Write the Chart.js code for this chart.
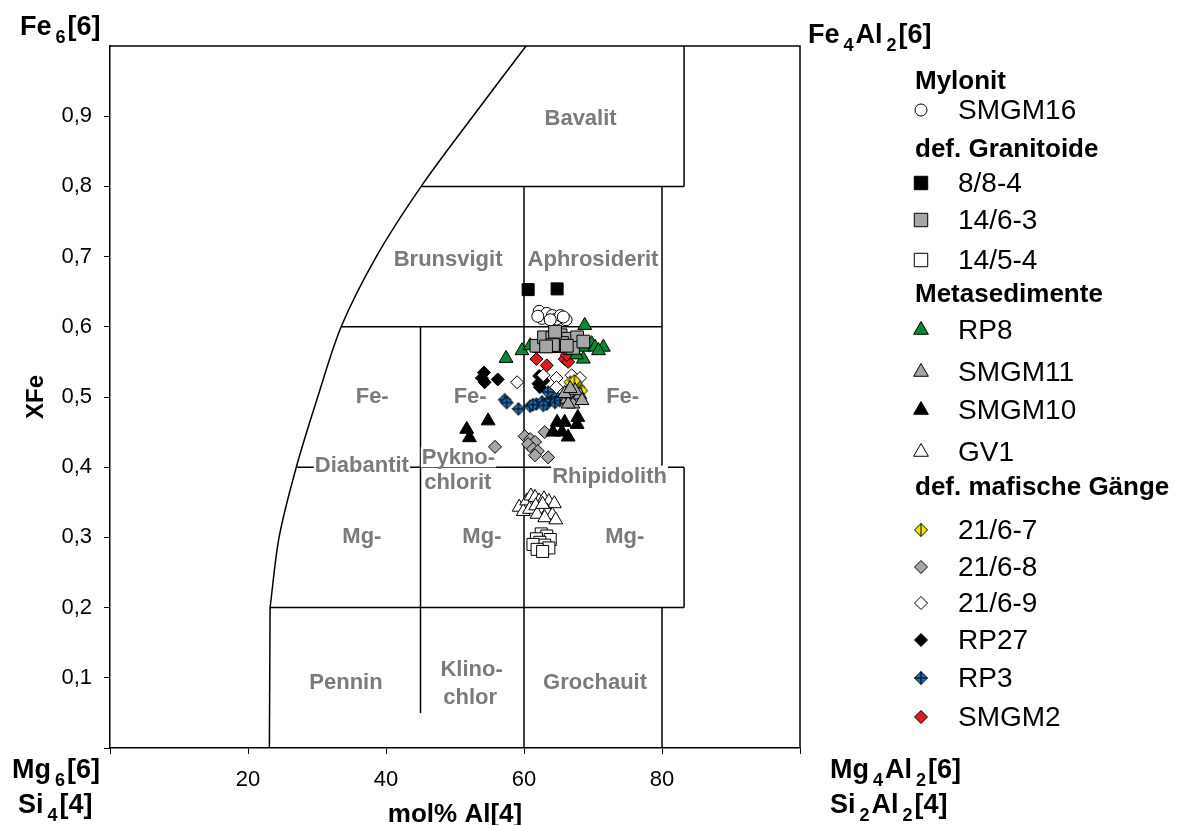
<!DOCTYPE html>
<html>
<head>
<meta charset="utf-8">
<title>Chlorit-Klassifikation</title>
<script src="https://cdn.jsdelivr.net/npm/chart.js@4/dist/chart.umd.min.js"></script>
<style>
    html, body { margin: 0; padding: 0; background: #fff; overflow: hidden; }
    #wrap { position: relative; width: 1184px; height: 850px; }
</style>
</head>
<body>
<div id="wrap"><canvas id="chloritChart"></canvas></div>
<script>
const FONT = "'Liberation Sans', Arial, Helvetica, sans-serif";

// Achsenbeschriftung
const xTickLabels = ['', '20', '40', '60', '80', ''];
const yTickLabels = ['', '0,1', '0,2', '0,3', '0,4', '0,5', '0,6', '0,7', '0,8', '0,9', null];

// Messwerte [mol% Al[4], XFe]
const smgm16 = [[62.2, 0.622], [62.6, 0.612], [63.3, 0.619], [64.1, 0.616], [64.7, 0.611], [65.3, 0.616], [66.1, 0.610], [65.7, 0.614], [63.8, 0.610], [62.0, 0.615]];
const gr8_8_4 = [[60.6, 0.653], [64.8, 0.654]];
const gr14_6_3 = [[61.8, 0.573], [62.9, 0.585], [64.1, 0.584], [65.3, 0.588], [66.4, 0.583], [67.7, 0.585], [67.1, 0.570], [65.5, 0.577], [64.2, 0.574], [63.2, 0.572], [68.6, 0.579], [64.5, 0.593], [66.2, 0.573]];
const gr14_5_4 = [[62.5, 0.305], [63.3, 0.302], [61.8, 0.298], [63.8, 0.297], [62.3, 0.293], [63.0, 0.289], [61.3, 0.290], [63.6, 0.285], [61.9, 0.283], [62.7, 0.280]];
const rp8 = [[57.4, 0.555], [59.7, 0.566], [68.8, 0.602], [60.9, 0.573], [62.3, 0.569], [63.8, 0.569], [65.0, 0.569], [66.7, 0.566], [68.6, 0.571], [69.8, 0.576], [70.3, 0.571], [71.5, 0.571], [70.8, 0.566], [68.6, 0.554], [67.6, 0.560]];
const smgm11 = [[66.2, 0.497], [66.9, 0.503], [67.6, 0.497], [67.1, 0.490], [66.4, 0.490], [68.1, 0.503], [67.4, 0.509], [65.9, 0.505], [68.4, 0.495], [66.7, 0.512]];
const smgm10 = [[51.7, 0.454], [52.1, 0.442], [54.8, 0.466], [64.8, 0.464], [65.9, 0.464], [67.8, 0.471], [67.7, 0.461], [64.2, 0.450], [65.5, 0.450], [66.4, 0.443]];
const gv1 = [[59.3, 0.343], [59.9, 0.337], [60.4, 0.352], [61.0, 0.359], [61.6, 0.357], [62.2, 0.352], [62.9, 0.355], [63.6, 0.351], [64.4, 0.348], [60.8, 0.340], [61.7, 0.345], [62.5, 0.340], [63.4, 0.337], [64.1, 0.332], [61.9, 0.333], [63.0, 0.328], [64.6, 0.325], [62.7, 0.347]];
const m21_6_7 = [[66.7, 0.521], [66.9, 0.514], [67.9, 0.514], [68.3, 0.509], [67.3, 0.523]];
const m21_6_8 = [[60.1, 0.444], [60.9, 0.440], [61.6, 0.436], [60.6, 0.433], [61.3, 0.426], [62.0, 0.423], [61.6, 0.417], [63.5, 0.414], [55.8, 0.429], [63.0, 0.450]];
const m21_6_9 = [[59.0, 0.521], [62.8, 0.531], [64.7, 0.527], [66.9, 0.531], [68.1, 0.527], [64.7, 0.514], [67.5, 0.520]];
const rp27 = [[54.2, 0.535], [53.9, 0.527], [54.3, 0.521], [56.2, 0.525], [62.2, 0.530], [62.1, 0.519], [62.3, 0.514], [62.8, 0.523]];
const rp3 = [[57.2, 0.496], [57.5, 0.492], [59.2, 0.483], [60.9, 0.487], [61.8, 0.490], [62.6, 0.493], [63.3, 0.490], [63.8, 0.497], [64.7, 0.500], [63.5, 0.507], [64.5, 0.492], [65.9, 0.500], [65.2, 0.495], [61.3, 0.489], [62.8, 0.488]];
const smgm2 = [[61.8, 0.554], [63.3, 0.545], [65.9, 0.554], [66.4, 0.550], [66.2, 0.560]];

// Feldgrenzen nach Hey
const borderCurve = [[23.2, 0.2], [24.5, 0.3], [27.0, 0.4], [30.1, 0.5], [33.5, 0.6], [38.6, 0.7], [45.1, 0.8], [52.6, 0.9], [60.3, 1.0]];
const fieldLines = [
    [[23.1, 0], [23.2, 0.2]],
    [[23.2, 0.2], [83.2, 0.2]],
    [[27.0, 0.4], [83.2, 0.4]],
    [[33.5, 0.6], [80, 0.6]],
    [[45.1, 0.8], [83.2, 0.8]],
    [[83.2, 0.8], [83.2, 1.0]],
    [[83.2, 0.2], [83.2, 0.4]],
    [[80, 0], [80, 0.2]],
    [[80, 0.4], [80, 0.8]],
    [[60, 0], [60, 0.8]],
    [[45, 0.05], [45, 0.6]]
];

// Feldnamen [Text, x, y]
const fieldNames = [
    ['Bavalit', 68.2, 0.897],
    ['Brunsvigit', 49.0, 0.696],
    ['Aphrosiderit', 70.0, 0.696],
    ['Fe-', 38.0, 0.502],
    ['Fe-', 52.2, 0.502],
    ['Fe-', 74.3, 0.502],
    ['Diabantit', 36.5, 0.403],
    ['Pykno-', 50.5, 0.414],
    ['chlorit', 50.4, 0.379],
    ['Rhipidolith', 72.4, 0.388],
    ['Mg-', 36.5, 0.302],
    ['Mg-', 53.9, 0.302],
    ['Mg-', 74.6, 0.302],
    ['Pennin', 34.2, 0.094],
    ['Klino-', 52.4, 0.112],
    ['chlor', 52.2, 0.073],
    ['Grochauit', 70.3, 0.094]
];

const legendGroups = ['Mylonit', 'def. Granitoide', 'Metasedimente', 'def. mafische Gänge'];

// Sondermarker (Raute mit Kreuz / Strich)
function makeDiamond(fill, r, cross) {
    const s = Math.ceil(2 * r + 3);
    const c = document.createElement('canvas');
    c.width = s;
    c.height = s;
    const g = c.getContext('2d');
    const m = s / 2;
    g.beginPath();
    g.moveTo(m, m - r);
    g.lineTo(m + r, m);
    g.lineTo(m, m + r);
    g.lineTo(m - r, m);
    g.closePath();
    g.fillStyle = fill;
    g.fill();
    g.lineWidth = 1;
    g.strokeStyle = '#000';
    g.stroke();
    g.beginPath();
    g.moveTo(m, m - r);
    g.lineTo(m, m + r);
    if (cross) {
        g.moveTo(m - r, m);
        g.lineTo(m + r, m);
    }
    g.stroke();
    return c;
}

const series = [
    { label: 'SMGM16', group: 0, data: smgm16, style: 'circle', fill: '#ffffff', r: 6, lr: 6 },
    { label: '8/8-4', group: 1, data: gr8_8_4, style: 'rect', fill: '#000000', r: 8.5, lr: 9.5 },
    { label: '14/6-3', group: 1, data: gr14_6_3, style: 'rect', fill: '#a6a6a6', r: 9, lr: 9.5 },
    { label: '14/5-4', group: 1, data: gr14_5_4, style: 'rect', fill: '#ffffff', r: 8.5, lr: 9.5 },
    { label: 'RP8', group: 2, data: rp8, style: 'triangle', fill: '#0b8a32', r: 8, lr: 8.5 },
    { label: 'SMGM11', group: 2, data: smgm11, style: 'triangle', fill: '#a6a6a6', r: 8, lr: 8.5 },
    { label: 'SMGM10', group: 2, data: smgm10, style: 'triangle', fill: '#000000', r: 8, lr: 8.5 },
    { label: 'GV1', group: 2, data: gv1, style: 'triangle', fill: '#ffffff', r: 8, lr: 8.5 },
    { label: '21/6-7', group: 3, data: m21_6_7, style: makeDiamond('#f2e40c', 6.3, false), legendStyle: makeDiamond('#f2e40c', 6.5, false), fill: '#f2e40c', r: 6.3, lr: 6.5 },
    { label: '21/6-8', group: 3, data: m21_6_8, style: 'rectRot', fill: '#a6a6a6', r: 6.5, lr: 6.5 },
    { label: '21/6-9', group: 3, data: m21_6_9, style: 'rectRot', fill: '#ffffff', r: 6.5, lr: 6.5 },
    { label: 'RP27', group: 3, data: rp27, style: 'rectRot', fill: '#000000', r: 6.5, lr: 6.5 },
    { label: 'RP3', group: 3, data: rp3, style: makeDiamond('#1f6db4', 6.3, true), legendStyle: makeDiamond('#1f6db4', 6.5, true), fill: '#1f6db4', r: 6.3, lr: 6.5 },
    { label: 'SMGM2', group: 3, data: smgm2, style: 'rectRot', fill: '#e01a22', r: 6.5, lr: 6.5 }
];

const toXY = pts => pts.map(([x, y]) => ({ x, y }));

const lineDatasets = [borderCurve, ...fieldLines].map((pts, i) => ({
    data: toXY(pts),
    showLine: true,
    tension: i === 0 ? 0.3 : 0,
    borderColor: '#000',
    borderWidth: 1.5,
    pointRadius: 0,
    order: 2
}));

const pointDatasets = series.map(s => ({
    label: s.label,
    data: toXY(s.data),
    pointStyle: s.style,
    pointRadius: s.r,
    pointBackgroundColor: s.fill,
    pointBorderColor: '#000',
    pointBorderWidth: 1,
    showLine: false,
    order: 1
}));

// Rahmen oben/rechts
const framePlugin = {
    id: 'frame',
    beforeDatasetsDraw(chart) {
        const { ctx, chartArea: a } = chart;
        ctx.save();
        ctx.strokeStyle = '#000';
        ctx.lineWidth = 1.5;
        ctx.beginPath();
        ctx.moveTo(a.left, a.top);
        ctx.lineTo(a.right, a.top);
        ctx.lineTo(a.right, a.bottom);
        ctx.stroke();
        ctx.restore();
    }
};

// Feldnamen zwischen Grenzlinien und Messpunkten
const fieldNamePlugin = {
    id: 'fieldNames',
    afterDatasetDraw(chart, args) {
        if (args.index !== 0) return;
        const { ctx, scales } = chart;
        ctx.save();
        ctx.font = 'bold 22px ' + FONT;
        ctx.textAlign = 'center';
        ctx.textBaseline = 'middle';
        fieldNames.forEach(([text, x, y]) => {
            const px = scales.x.getPixelForValue(x);
            const py = scales.y.getPixelForValue(y);
            const w = ctx.measureText(text).width;
            ctx.fillStyle = '#fff';
            ctx.fillRect(px - w / 2 - 1, py - 10, w + 2, 20);
            ctx.fillStyle = '#7b7b7b';
            ctx.fillText(text, px, py + 1);
        });
        ctx.restore();
    }
};

function drawFormula(ctx, parts, x, y, size) {
    let cx = x;
    parts.forEach(([t, sub]) => {
        const fs = sub ? Math.round(size * 0.66) : size;
        ctx.font = 'bold ' + fs + 'px ' + FONT;
        if (sub) cx += 4;
        ctx.fillText(t, cx, sub ? y + size * 0.28 : y);
        cx += ctx.measureText(t).width + (sub ? 2 : 0);
    });
}

// Eckbeschriftung und Legende
const legendRowY = [82, 110, 150, 183, 220, 260, 295, 330, 372, 410, 452, 488, 530, 567, 603, 640, 678, 717];

const cornerPlugin = {
    id: 'corners',
    afterDraw(chart) {
        const ctx = chart.ctx;
        ctx.save();
        ctx.fillStyle = '#000';
        ctx.textAlign = 'left';
        ctx.textBaseline = 'alphabetic';
        drawFormula(ctx, [['Fe', false], ['6', true], ['[6]', false]], 20, 35, 27);
        drawFormula(ctx, [['Fe', false], ['4', true], ['Al', false], ['2', true], ['[6]', false]], 808, 43, 27);
        drawFormula(ctx, [['Mg', false], ['6', true], ['[6]', false]], 12, 778, 27);
        drawFormula(ctx, [['Si', false], ['4', true], ['[4]', false]], 18, 813, 27);
        drawFormula(ctx, [['Mg', false], ['4', true], ['Al', false], ['2', true], ['[6]', false]], 830, 778, 27);
        drawFormula(ctx, [['Si', false], ['2', true], ['Al', false], ['2', true], ['[4]', false]], 830, 813, 27);

        // Legende
        let row = 0;
        let lastGroup = -1;
        const draw = Chart.helpers && Chart.helpers.drawPoint;
        ctx.textBaseline = 'middle';
        series.forEach(s => {
            if (s.group !== lastGroup) {
                ctx.font = 'bold 26px ' + FONT;
                ctx.fillStyle = '#000';
                ctx.fillText(legendGroups[s.group], 915, legendRowY[row]);
                row++;
                lastGroup = s.group;
            }
            const y = legendRowY[row];
            ctx.fillStyle = s.fill;
            ctx.strokeStyle = '#000';
            ctx.lineWidth = 1;
            draw(ctx, { pointStyle: s.legendStyle || s.style, radius: s.lr, rotation: 0, borderWidth: 1 }, 921, y);
            ctx.font = '28px ' + FONT;
            ctx.fillStyle = '#000';
            ctx.fillText(s.label, 958, y + 1);
            row++;
        });
        ctx.restore();
    }
};

Chart.defaults.font.family = FONT;

new Chart(document.getElementById('chloritChart'), {
    type: 'scatter',
    data: { datasets: [...lineDatasets, ...pointDatasets] },
    options: {
        responsive: true,
        maintainAspectRatio: false,
        animation: false,
        events: [],
        layout: { padding: { top: 46, right: 384, left: 0, bottom: 0 } },
        plugins: {
            legend: { display: false },
            tooltip: { enabled: false }
        },
        scales: {
            x: {
                type: 'linear',
                min: 0,
                max: 100,
                ticks: {
                    stepSize: 20,
                    color: '#000',
                    font: { size: 22 },
                    padding: 13,
                    maxRotation: 0,
                    callback: (v, i) => xTickLabels[i]
                },
                grid: { drawOnChartArea: false, drawTicks: true, tickLength: 6, color: '#000' },
                border: { display: true, color: '#000', width: 1.5 },
                title: {
                    display: true,
                    text: 'mol% Al[4]',
                    color: '#000',
                    font: { size: 26, weight: 'bold' },
                    padding: { top: 0, bottom: 20 }
                },
                afterFit: scale => { scale.height = 102; }
            },
            y: {
                type: 'linear',
                min: 0,
                max: 1,
                ticks: {
                    stepSize: 0.1,
                    color: '#000',
                    font: { size: 22 },
                    padding: 12,
                    callback: (v, i) => yTickLabels[i]
                },
                grid: { drawOnChartArea: false, drawTicks: true, tickLength: 6, color: '#000' },
                border: { display: true, color: '#000', width: 1.5 },
                title: {
                    display: true,
                    text: 'XFe',
                    color: '#000',
                    font: { size: 24, weight: 'bold' },
                    padding: { top: 22, bottom: 0 }
                },
                afterFit: scale => { scale.width = 110; }
            }
        }
    },
    plugins: [framePlugin, fieldNamePlugin, cornerPlugin]
});
</script>
</body>
</html>
